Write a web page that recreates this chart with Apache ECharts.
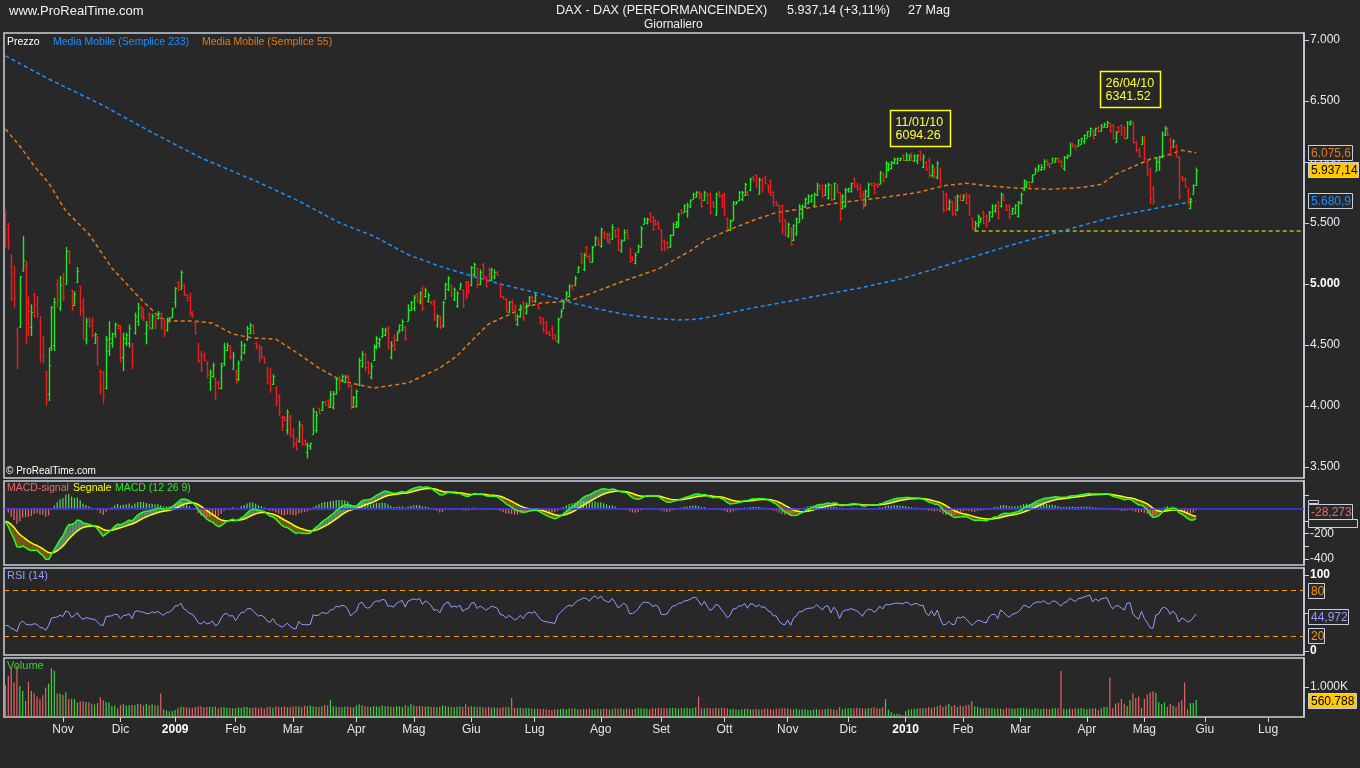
<!DOCTYPE html>
<html><head><meta charset="utf-8">
<script src="https://cdn.jsdelivr.net/npm/echarts/dist/echarts.min.js"></script>
<style>html,body{margin:0;padding:0;background:#282828;}#c{width:1360px;height:768px;}</style>
</head><body><div id="c"></div><script>
// ---------- DATA ----------
const firstDay = [2008, 9, 6];   // 6 Oct 2008 (month 0-based)
const slotCount = 452;           // trading-day slots shown on the x axis (incl. future)
const holidays = ['2008-12-24','2008-12-25','2008-12-26','2008-12-31','2009-01-01','2009-04-10','2009-04-13','2009-05-01','2009-12-24','2009-12-25','2009-12-31','2010-01-01','2010-04-02','2010-04-05'];
const monthNames = ['Gen','Feb','Mar','Apr','Mag','Giu','Lug','Ago','Set','Ott','Nov','Dic'];

const opens = [5600,5450,5150,5100,4600,4650,5110,5150,4850,4650,4920,4880,4700,4550,4280,4100,4480,4500,5000,4800,5050,5000,5270,4950,4830,5020,4980,4800,4550,4720,4700,4520,4570,4290,4280,4150,4450,4520,4600,4665,4660,4400,4520,4520,4500,4600,4700,4820,4800,4600,4750,4640,4760,4720,4760,4700,4620,4700,4730,4850,5020,4960,4995,4910,4890,4770,4690,4480,4420,4420,4350,4200,4250,4220,4200,4150,4350,4460,4490,4300,4290,4220,4400,4440,4550,4600,4660,4520,4500,4480,4400,4300,4250,4180,4150,4080,3910,3910,3800,3920,3760,3700,3710,3840,3720,3620,3670,3770,3800,3980,3970,4035,4050,3990,3990,4100,4240,4210,4200,4250,4170,3990,4000,4170,4330,4430,4360,4240,4380,4480,4520,4570,4580,4640,4400,4560,4540,4620,4620,4650,4700,4790,4800,4920,4850,4970,4900,4860,4855,4860,4660,4735,4660,4880,4960,4990,4880,4820,4960,4950,5020,5010,4990,5080,5130,5000,5160,5060,5120,5030,5060,5100,5000,4900,4880,4770,4860,4820,4670,4740,4850,4760,4830,4895,4860,4840,4730,4720,4690,4610,4640,4580,4530,4730,4800,4880,4900,4990,4990,5100,5250,5120,5300,5230,5180,5320,5375,5310,5430,5410,5400,5370,5440,5450,5270,5360,5440,5290,5225,5170,5260,5300,5490,5500,5580,5550,5525,5500,5440,5360,5345,5300,5400,5470,5470,5605,5590,5600,5630,5700,5710,5755,5740,5685,5740,5740,5670,5570,5755,5730,5740,5540,5440,5525,5655,5685,5700,5730,5755,5770,5880,5890,5740,5855,5880,5810,5850,5755,5675,5645,5640,5525,5390,5455,5360,5420,5510,5580,5630,5660,5680,5650,5730,5812,5810,5730,5705,5810,5700,5815,5745,5620,5640,5770,5760,5865,5800,5790,5740,5650,5720,5825,5825,5820,5820,5905,5880,5940,5950,5990,5995,6015,6055,6020,6020,6070,6010,6020,6090,5960,6000,6020,5890,5945,5880,5945,5760,5740,5620,5670,5710,5610,5720,5690,5740,5720,5540,5450,5480,5510,5590,5560,5520,5560,5600,5670,5640,5730,5650,5640,5575,5580,5560,5660,5770,5795,5840,5835,5900,5930,5940,5945,6010,5990,5995,6000,6030,6010,5950,6040,6050,6150,6140,6130,6150,6170,6200,6215,6250,6220,6290,6255,6285,6290,6320,6300,6160,6290,6300,6290,6200,6310,6320,6160,6110,6150,6200,6000,5940,5790,5930,6000,6040,6220,6270,6180,6120,6130,6040,5880,5860,5760,5620,5740,5810];
const highs = [5612,5502,5243,5147,4642,5065,5393,5188,4901,4833,4929,4901,4737,4574,4287,4478,4819,4888,5038,5065,5093,5303,5278,4956,4942,5139,4983,4888,4724,4724,4724,4601,4574,4300,4287,4574,4697,4601,4683,4669,4664,4601,4601,4669,4519,4765,4847,4820,4806,4697,4765,4757,4765,4778,4765,4710,4724,4730,4806,4975,5024,5112,4997,4915,4929,4778,4697,4519,4451,4437,4369,4300,4355,4232,4205,4355,4519,4519,4495,4445,4300,4374,4533,4514,4656,4683,4669,4527,4505,4492,4404,4320,4314,4259,4164,4095,3918,3918,3973,3931,3822,3740,3877,3850,3727,3699,3700,3986,3959,3986,4041,4041,4054,4123,4123,4232,4246,4259,4254,4259,4177,4082,4136,4396,4450,4437,4369,4355,4505,4573,4560,4642,4642,4655,4532,4587,4614,4669,4710,4655,4833,4860,4909,4928,4942,4983,4970,4929,4860,4874,4751,4740,4860,5011,5065,4997,4970,4942,5011,4956,5024,5024,5147,5174,5133,5120,5174,5065,5133,5133,5120,5106,5011,4901,4888,4860,4874,4833,4751,4833,4860,4847,4901,4901,4928,4847,4737,4724,4696,4614,4655,4587,4724,4792,4860,4942,4997,4997,5065,5147,5256,5256,5311,5243,5311,5393,5380,5462,5434,5421,5421,5489,5448,5462,5366,5448,5448,5298,5229,5257,5325,5475,5544,5544,5585,5557,5530,5516,5448,5366,5352,5407,5503,5516,5585,5612,5653,5667,5694,5749,5762,5762,5749,5762,5749,5749,5680,5749,5762,5735,5749,5544,5530,5680,5680,5762,5762,5830,5762,5871,5885,5899,5871,5871,5885,5817,5858,5762,5680,5653,5653,5530,5503,5462,5489,5544,5653,5653,5708,5735,5735,5749,5830,5817,5817,5817,5830,5817,5830,5817,5749,5735,5789,5789,5830,5871,5831,5817,5763,5776,5831,5831,5831,5831,5926,5913,6008,5995,6008,6036,6036,6036,6063,6077,6063,6077,6063,6063,6094.26,6063,6008,6036,5981,5954,6008,5954,5763,5749,5694,5681,5722,5735,5735,5735,5749,5735,5544,5517,5571,5544,5599,5571,5599,5653,5653,5681,5749,5735,5653,5653,5626,5653,5681,5749,5858,5844,5844,5899,5954,5981,5981,6022,6022,5995,6036,6036,6036,6022,6050,6063,6159,6159,6145,6186,6200,6227,6254,6282,6268,6282,6295,6309,6323,6336,6323,6309,6254,6295,6309,6295,6336,6341.52,6330,6172,6118,6213,6213,6008,5954,5803,6036,6050,6250,6295,6286,6200,6186,6145,6049,5885,5872,5790,5708,5817,5954];
const lows = [5298,5280,4860,4806,4300,4642,5106,4511,4574,4574,4724,4724,4355,4347,4000,4041,4451,4451,4806,4778,4860,4997,5161,4778,4819,5011,4737,4546,4505,4642,4560,4511,4328,4095,4019,4137,4410,4478,4560,4628,4355,4287,4492,4478,4300,4587,4655,4710,4696,4505,4620,4630,4628,4710,4628,4566,4610,4683,4724,4806,4942,4956,4901,4860,4737,4724,4587,4355,4281,4369,4226,4123,4232,4052,4137,4137,4328,4451,4382,4300,4183,4205,4369,4423,4533,4587,4587,4464,4355,4382,4347,4177,4109,4172,4000,3918,3795,3877,3767,3740,3658,3637,3699,3672,3672,3571,3640,3767,3781,3932,3959,4000,3986,3986,3973,4095,4123,4205,4191,4150,3972,3986,3986,4164,4314,4287,4259,4218,4369,4464,4478,4560,4573,4464,4382,4450,4532,4600,4614,4532,4696,4778,4778,4847,4833,4778,4888,4847,4833,4696,4642,4628,4642,4874,4942,4888,4860,4806,4956,4806,4874,4915,4983,5065,4970,4990,5038,4970,5024,5024,5038,5065,4888,4874,4765,4765,4778,4696,4655,4724,4696,4751,4819,4847,4847,4792,4669,4601,4587,4573,4546,4532,4511,4724,4792,4874,4888,4956,4983,5092,5161,5106,5216,5174,5174,5311,5311,5298,5366,5339,5325,5366,5380,5270,5257,5352,5366,5175,5188,5161,5257,5298,5489,5489,5503,5434,5475,5448,5270,5270,5284,5299,5393,5462,5462,5571,5585,5544,5626,5694,5708,5694,5626,5680,5653,5571,5626,5557,5708,5626,5557,5448,5434,5516,5653,5680,5680,5721,5721,5762,5844,5789,5735,5749,5817,5749,5721,5639,5639,5503,5407,5393,5380,5311,5352,5393,5503,5530,5626,5653,5667,5639,5721,5776,5708,5721,5694,5680,5690,5749,5516,5612,5626,5749,5748,5789,5763,5700,5612,5640,5708,5803,5735,5790,5817,5831,5872,5926,5940,5981,5981,6008,6008,6008,6008,6008,6000,5981,6008,5950,5926,5872,5872,5872,5858,5790,5585,5599,5599,5558,5558,5599,5681,5681,5653,5558,5448,5434,5462,5503,5489,5462,5517,5544,5585,5530,5626,5681,5599,5530,5571,5571,5544,5653,5763,5790,5790,5831,5899,5926,5926,5940,5967,5954,5995,5995,5995,5954,5926,6022,6050,6118,6104,6125,6145,6145,6200,6213,6186,6215,6241,6250,6280,6282,6241,6186,6159,6241,6213,6186,6195,6300,6150,6077,6036,6140,6008,5885,5653,5653,5926,5926,6030,6213,6213,6049,6118,6036,5694,5844,5790,5650,5612,5735,5803];
const closes = [5387,5326,5013,4887,4544,5062,5199,4861,4781,4770,4840,4760,4420,4400,4100,4335,4810,4850,4880,4988,4900,5270,5180,4800,4920,5110,4780,4600,4700,4660,4580,4590,4350,4130,4080,4550,4560,4590,4670,4640,4400,4560,4580,4640,4380,4740,4800,4740,4720,4660,4650,4740,4690,4760,4660,4600,4700,4720,4800,4970,4980,5100,4920,4870,4760,4740,4600,4380,4300,4380,4260,4280,4340,4100,4150,4330,4480,4500,4400,4420,4200,4350,4500,4500,4640,4660,4600,4480,4400,4420,4360,4200,4150,4250,4050,3950,3850,3885,3950,3800,3690,3650,3850,3700,3690,3680,3695,3960,3930,3945,4030,4005,4000,4100,4110,4220,4200,4250,4240,4170,4000,4070,4120,4380,4430,4320,4280,4330,4490,4560,4550,4630,4620,4480,4500,4470,4600,4660,4700,4560,4790,4850,4890,4870,4930,4800,4950,4910,4840,4720,4740,4650,4850,5000,5050,4910,4960,4930,5000,4830,4900,4940,5140,5160,5000,5100,5050,4980,5040,5120,5100,5070,4900,4880,4780,4850,4790,4710,4740,4820,4720,4830,4890,4860,4910,4800,4680,4620,4600,4580,4560,4545,4710,4780,4850,4930,4980,4960,5050,5140,5180,5240,5230,5190,5300,5380,5330,5450,5380,5350,5340,5470,5390,5290,5350,5430,5380,5190,5195,5240,5315,5460,5535,5530,5520,5450,5490,5460,5290,5290,5300,5400,5495,5510,5575,5580,5645,5650,5690,5740,5755,5705,5640,5750,5665,5590,5635,5740,5720,5640,5570,5460,5520,5670,5675,5750,5750,5820,5730,5860,5850,5800,5860,5810,5825,5755,5730,5645,5645,5515,5440,5410,5490,5330,5480,5530,5640,5640,5700,5725,5730,5740,5815,5780,5720,5810,5820,5690,5825,5755,5540,5725,5780,5785,5825,5800,5775,5720,5640,5760,5820,5810,5750,5800,5915,5850,5990,5980,6000,6025,6030,6030,6020,6060,6050,6020,6050,6055,6030,6040,5940,5890,5970,5880,5990,5800,5610,5620,5680,5580,5570,5720,5690,5725,5665,5570,5460,5500,5560,5540,5500,5480,5590,5640,5645,5545,5740,5690,5610,5560,5620,5645,5670,5740,5850,5835,5800,5890,5945,5970,5960,6010,5975,5960,6030,6030,6000,5965,6040,6055,6150,6130,6110,6180,6195,6220,6250,6275,6200,6275,6250,6300,6315,6330,6250,6195,6245,6250,6220,6195,6325,6332,6160,6100,6050,6200,6030,5900,5700,5680,6010,6040,6240,6280,6225,6060,6175,6045,5720,5855,5800,5670,5700,5810,5937.14];
const volumes = [1056,1367,1633,1144,1700,1033,867,533,1167,867,789,678,589,722,978,1111,1611,1533,778,780,
733,833,589,611,600,478,511,520,500,480,444,420,460,644,560,500,480,367,380,300,
400,420,380,390,410,400,430,420,380,440,400,420,390,380,778,260,220,190,200,
230,300,340,330,320,310,300,330,350,360,320,330,340,330,350,300,320,330,310,300,290,
300,320,310,340,330,300,310,320,300,320,280,330,340,310,360,330,340,350,320,330,
340,360,350,330,370,360,380,350,340,330,360,400,380,567,360,340,330,320,350,340,330,320,
380,420,390,360,340,330,360,350,340,380,360,370,340,330,360,350,330,400,360,420,
380,360,370,350,340,360,330,340,320,350,380,360,340,330,320,340,350,330,420,340,
360,350,330,340,320,310,330,300,320,310,300,330,340,320,633,300,290,310,280,300,290,280,
270,280,260,270,250,240,230,260,250,270,280,260,290,270,280,260,250,270,260,280,250,260,270,
260,280,270,250,260,280,270,290,260,280,270,260,280,300,290,270,280,260,300,290,310,
300,290,280,300,310,290,280,300,290,310,280,300,320,680,290,280,300,290,280,300,290,310,
300,280,260,270,250,240,260,270,280,250,260,270,250,260,280,270,260,250,280,270,300,290,
280,260,250,270,240,250,260,240,230,250,260,240,250,260,280,270,250,240,330,260,280,
290,300,280,310,290,280,270,290,300,320,300,280,320,600,244,167,111,111,89,56,
189,250,260,270,280,300,280,300,330,300,330,350,400,330,380,444,360,400,330,380,
350,400,411,533,360,340,300,290,310,280,300,270,290,280,260,300,290,280,270,300,
300,290,280,270,260,290,270,260,280,270,260,280,300,290,1530,270,260,280,270,290,280,300,270,
260,270,280,290,233,289,333,333,1300,290,444,478,600,444,367,567,789,633,678,300,
600,744,811,856,800,489,433,489,333,433,370,333,489,556,1144,256,467,467,560.788];
// moving averages: [day index, value]
const ma233Points = [[0,6870],[15,6680],[33,6475],[50,6254],[68,6033],[87,5844],[102,5680],[116,5503],[128,5393],[140,5240],[151,5145],[163,5060],[172,5000],[186,4920],[197,4845],[207,4790],[215,4752],[227,4715],[234,4705],[241,4712],[250,4755],[261,4810],[273,4860],[284,4910],[297,4967],[311,5040],[322,5115],[332,5190],[352,5335],[369,5445],[386,5555],[401,5625],[414,5681]];
const ma55Points = [[0,6270],[5,6131],[10,5967],[15,5828],[21,5598],[29,5410],[37,5131],[47,4877],[54,4721],[58,4697],[65,4697],[72,4680],[79,4590],[86,4557],[94,4549],[102,4426],[109,4311],[117,4205],[128,4147],[140,4189],[145,4246],[151,4311],[157,4410],[163,4557],[168,4672],[174,4737],[180,4803],[186,4844],[192,4852],[197,4869],[203,4918],[215,5025],[227,5123],[238,5270],[244,5366],[252,5448],[261,5530],[268,5585],[279,5623],[290,5667],[305,5708],[317,5749],[326,5804],[334,5826],[342,5804],[352,5785],[363,5777],[374,5790],[381,5817],[386,5899],[394,5981],[398,6022],[405,6063],[409,6096],[414,6076]];
const priceTicks = [3500,4000,4500,5000,5500,6000,6500,7000];
const macdTickValues = [100,-100,-200,-300,-400];
const macdLabelValues = [-200,-400];
const rsiLabelValues = [0,100];
const rsiLevels = [80,20];
const volumeLabelValues = [1000];
const macdSeed = {ema12:5950, ema26:6020, signal:-100};
const rsiSeed = {avgGain:77, avgLoss:150};
const supportLine = {from:337, value:5434};
const annotations = [{i:318, date:'11/01/10', value:'6094.26', high:6094.26},{i:391, date:'26/04/10', value:'6341.52', high:6341.52}];
const lastValues = {price:5937.14, priceText:'5.937,14', ma55:6075.6, ma55Text:'6.075,6', ma233:5680.9, ma233Text:'5.680,9', macd:-28.273, macdText:'-28,273', rsi:44.972, rsiText:'44,972', vol:560.788, volText:'560.788'};
const headerTitle = 'DAX - DAX (PERFORMANCEINDEX)', headerQuote = '5.937,14 (+3,11%)', headerDate = '27 Mag', headerPeriod = 'Giornaliero';

// ---------- calendar ----------
const dates = [];
let d = new Date(Date.UTC(firstDay[0], firstDay[1], firstDay[2]));
while (dates.length < slotCount) {
  const wd = d.getUTCDay(), s = d.toISOString().slice(0,10);
  if (wd !== 0 && wd !== 6 && holidays.indexOf(s) < 0) dates.push(s);
  d = new Date(d.getTime() + 86400000);
}
const isMonthStart = (idx) => idx > 0 && dates[idx].slice(5,7) !== dates[idx-1].slice(5,7);

// ---------- indicators ----------
const macd = [], signal = [], hist = [];
{ let e12 = macdSeed.ema12, e26 = macdSeed.ema26, sg = macdSeed.signal;
  closes.forEach(c => { e12 += (c-e12)*2/13; e26 += (c-e26)*2/27; const m = e12-e26; sg += (m-sg)*0.2; macd.push(m); signal.push(sg); hist.push(m-sg); }); }
const rsi = [];
{ let ag = rsiSeed.avgGain, al = rsiSeed.avgLoss;
  closes.forEach((c,i) => { if (i>0){ const ch = c-closes[i-1]; ag = (ag*13+Math.max(ch,0))/14; al = (al*13+Math.max(-ch,0))/14; } rsi.push(100-100/(1+ag/al)); }); }

// ---------- chart ----------
const FONT = '"Liberation Sans", Arial, sans-serif';
const BORDER = '#c8d0dc', GREEN = '#1ee81e', RED = '#ee1c1c';
const chart = echarts.init(document.getElementById('c'), null, {renderer:'canvas'});
const grids = [{top:33,height:445},{top:481,height:84},{top:568,height:87},{top:658,height:59}].map(g => Object.assign({left:4, right:56, show:true, borderColor:BORDER, borderWidth:1.5, backgroundColor:'transparent', containLabel:false, outerBoundsMode:'none'}, g));
const xAxes = [0,1,2,3].map(k => ({type:'category', gridIndex:k, data:dates, boundaryGap:true,
  axisLine:{show:false}, splitLine:{show:false},
  axisTick:{show:k===3, alignWithLabel:true, interval:(i)=>isMonthStart(i), length:5, lineStyle:{color:BORDER, width:1}},
  axisLabel:{show:k===3, interval:(i)=>isMonthStart(i), margin:7, color:'#e2e6ec', fontSize:12, fontFamily:FONT,
    formatter:(v)=>{ const m = +v.slice(5,7); return m===1 ? '{y|'+v.slice(0,4)+'}' : monthNames[m-1]; },
    rich:{y:{fontWeight:'bold', color:'#ffffff', fontSize:12, fontFamily:FONT}}}}));
const yBase = (k, min, max, ticks, labels, fmt) => ({type:'value', gridIndex:k, position:'right', min, max, splitLine:{show:false},
  axisLine:{show:true, lineStyle:{color:BORDER, width:1.5}},
  axisTick:{show:true, length:5, customValues:ticks, lineStyle:{color:BORDER}},
  axisLabel:{show:true, customValues:labels, formatter:fmt, margin:6, color:'#e6eaf0', fontSize:12, fontFamily:FONT,
    rich:{b:{fontWeight:'bold', color:'#ffffff', fontSize:12, fontFamily:FONT}}}});
const thousands = v => { const s = String(Math.round(Math.abs(v))); const t = s.length>3 ? s.slice(0,-3)+'.'+s.slice(-3) : s; return (v<0?'-':'')+t; };
const yAxes = [
  yBase(0, 3410, 7057, priceTicks, priceTicks, v => v===5000 ? '{b|5.000}' : thousands(v)),
  yBase(1, -447, 215, macdTickValues, macdLabelValues, v => String(v)),
  yBase(2, -5, 109, [0,50,100], rsiLabelValues, v => '{b|'+v+'}'),
  yBase(3, 0, 1960, volumeLabelValues, volumeLabelValues, v => thousands(v)+'K')
];

const ohlcData = closes.map((c,i) => [i, opens[i], highs[i], lows[i], c]);
const fillData = macd.map((m,i) => i>0 ? [i, m, signal[i], macd[i-1], signal[i-1]] : null).filter(Boolean);

const series = [
  {type:'line', name:'Supporto', xAxisIndex:0, yAxisIndex:0, showSymbol:false, silent:true, z:3,
   data:[[supportLine.from, supportLine.value],[slotCount-1, supportLine.value]],
   lineStyle:{color:'#ffff00', width:1, type:[4,3]}, itemStyle:{color:'#ffff00'}},
  {type:'custom', name:'Prezzo', xAxisIndex:0, yAxisIndex:0, data:ohlcData, clip:true, z:5,
   encode:{x:0, y:[2,3]},
   renderItem:(p, api) => {
     const i = api.value(0);
     const h = api.coord([i, api.value(2)]), l = api.coord([i, api.value(3)]);
     const o = api.coord([i, api.value(1)]), c = api.coord([i, api.value(4)]);
     const col = api.value(4) >= api.value(1) ? GREEN : RED;
     const x = Math.round(h[0]) + 0.5;
     return {type:'group', children:[
       {type:'line', shape:{x1:x, y1:h[1], x2:x, y2:l[1]}, style:{stroke:col, lineWidth:1.4}},
       {type:'line', shape:{x1:x-1.6, y1:Math.round(o[1])+0.5, x2:x, y2:Math.round(o[1])+0.5}, style:{stroke:col, lineWidth:1}},
       {type:'line', shape:{x1:x, y1:Math.round(c[1])+0.5, x2:x+1.6, y2:Math.round(c[1])+0.5}, style:{stroke:col, lineWidth:1}}]};
   }},
  {type:'line', name:'MM233', xAxisIndex:0, yAxisIndex:0, data:ma233Points, showSymbol:false, silent:true, z:4,
   lineStyle:{color:'#1e90ff', width:1.5, type:[4,3]}},
  {type:'line', name:'MM55', xAxisIndex:0, yAxisIndex:0, data:ma55Points, showSymbol:false, silent:true, z:4,
   lineStyle:{color:'#e07a1a', width:1.5, type:[4,3]}},
  // MACD panel
  {type:'custom', xAxisIndex:1, yAxisIndex:1, data:fillData, clip:true, z:2, encode:{x:0, y:[1,2]},
   renderItem:(p, api) => {
     const i = api.value(0);
     const up = api.value(1)+api.value(3) >= api.value(2)+api.value(4);
     return {type:'polygon', shape:{points:[api.coord([i-1, api.value(3)]), api.coord([i, api.value(1)]), api.coord([i, api.value(2)]), api.coord([i-1, api.value(4)])]},
       style:{fill: up ? '#5e8a6c' : '#7a5a12'}};
   }},
  {type:'bar', xAxisIndex:1, yAxisIndex:1, barWidth:1.2, silent:true, z:3,
   data:hist.map(v => ({value:v, itemStyle:{color: v>=0 ? '#5fd65f' : '#ea6a6a'}})),
   markLine:{silent:true, symbol:['none','none'], label:{show:false}, lineStyle:{color:'#3a3aff', type:'solid', width:1.5}, data:[{yAxis:0}]}},
  {type:'line', xAxisIndex:1, yAxisIndex:1, data:signal, showSymbol:false, silent:true, z:4, lineStyle:{color:'#ffff00', width:1.5}},
  {type:'line', xAxisIndex:1, yAxisIndex:1, data:macd, showSymbol:false, silent:true, z:5, lineStyle:{color:'#22ff22', width:1.5}},
  // RSI panel
  {type:'line', xAxisIndex:2, yAxisIndex:2, data:rsi, showSymbol:false, silent:true, z:4, lineStyle:{color:'#9a9aff', width:1},
   markLine:{silent:true, symbol:['none','none'], label:{show:false}, lineStyle:{color:'#ff9900', type:[5,4], width:1.2}, data:rsiLevels.map(v=>({yAxis:v}))}},
  // Volume panel
  {type:'bar', xAxisIndex:3, yAxisIndex:3, barWidth:1.2, silent:true,
   data:volumes.map((v,i) => ({value:v, itemStyle:{color: closes[i]>=opens[i] ? '#3ccf3c' : '#e26464'}}))}
];

chart.setOption({backgroundColor:'#282828', animation:false, grid:grids, xAxis:xAxes, yAxis:yAxes, series});

// ---------- overlay texts / boxes ----------
let zc = 100;
const txt = (x, y, s, fill, size, weight, align) => ({type:'text', silent:true, z:zc++, style:{x, y, text:s, fill,
  font:(weight||'normal')+' '+size+'px '+FONT, textAlign:align||'left', align:align||'left', textVerticalAlign:'middle', verticalAlign:'middle'}});
const rect = (x, y, w, h, fill, stroke, lw) => ({type:'rect', silent:true, z:zc++, shape:{x, y, width:w, height:h}, style:{fill, stroke, lineWidth:lw||1}});
const box = (yc, w, s, fill, bg) => { const y = Math.round(yc-7.5)+0.5; return [rect(1308.5, y, w, 15, bg, BORDER, 1), txt(1311, y+8, s, fill, 12)]; };
const yPix = (k, v) => chart.convertToPixel({yAxisIndex:k}, v);

const g = [];
g.push(txt(9, 11, 'www.ProRealTime.com', '#f2f2f2', 13, 'normal'));
g.push(txt(556, 11, headerTitle, '#f2f2f2', 12.6));
g.push(txt(787, 11, headerQuote, '#f2f2f2', 12.6));
g.push(txt(908, 11, headerDate, '#f2f2f2', 12.6));
g.push(txt(644, 25, headerPeriod, '#f2f2f2', 12));
g.push(txt(7, 42, 'Prezzo', '#ffffff', 10.5));
g.push(txt(53, 42, 'Media Mobile (Semplice 233)', '#1e90ff', 10.5));
g.push(txt(202, 42, 'Media Mobile (Semplice 55)', '#e07a1a', 10.5));
g.push(txt(6, 471, '\u00a9 ProRealTime.com', '#ffffff', 10));
g.push(txt(7, 488, 'MACD-signal', '#ea6a6a', 10.5));
g.push(txt(73, 488, 'Segnale', '#ffff00', 10.5));
g.push(txt(115, 488, 'MACD (12 26 9)', '#22ee22', 10.5));
g.push(txt(7, 576, 'RSI (14)', '#9a9aff', 11));
g.push(txt(7, 666, 'Volume', '#3ccf3c', 11));
// annotation boxes
const annoGap = [4, 13];
annotations.forEach((a, k) => {
  const p = chart.convertToPixel({xAxisIndex:0, yAxisIndex:0}, [a.i, a.high]);
  const w = 60, h = 36, x = Math.round(p[0]-w/2)+0.5, y = Math.round(p[1]-annoGap[k]-h)+0.5;
  g.push(rect(x, y, w, h, '#282828', '#ffff00', 1.5));
  g.push(txt(x+5, y+12, a.date, '#ffff33', 12.5));
  g.push(txt(x+5, y+25, a.value, '#ffff33', 12.5));
});
// right side value boxes
g.push(...box(yPix(0, lastValues.ma55), 44, lastValues.ma55Text, '#e07a1a', '#282828'));
g.push(...box(yPix(0, lastValues.ma233), 44, lastValues.ma233Text, '#1e90ff', '#282828'));
g.push(...box(yPix(0, lastValues.price), 50, lastValues.priceText, '#000000', '#ffc800'));
const ym = yPix(1, lastValues.macd);
g.push(rect(1308.5, Math.round(ym)-11.5, 10, 3, '#282828', BORDER, 1));
g.push(rect(1308.5, Math.round(ym)+7.5, 49, 8, '#282828', BORDER, 1));
g.push(...box(ym, 44, lastValues.macdText, '#ea6a6a', '#282828'));
g.push(...box(yPix(2, 80), 16, '80', '#ff9900', '#282828'));
g.push(...box(yPix(2, 20), 16, '20', '#ff9900', '#282828'));
g.push(...box(yPix(2, lastValues.rsi), 40, lastValues.rsiText, '#9a9aff', '#282828'));
g.push(...box(yPix(3, lastValues.vol), 48, lastValues.volText, '#000000', '#ffc800'));
chart.setOption({graphic:{elements:g}});
</script></body></html>
